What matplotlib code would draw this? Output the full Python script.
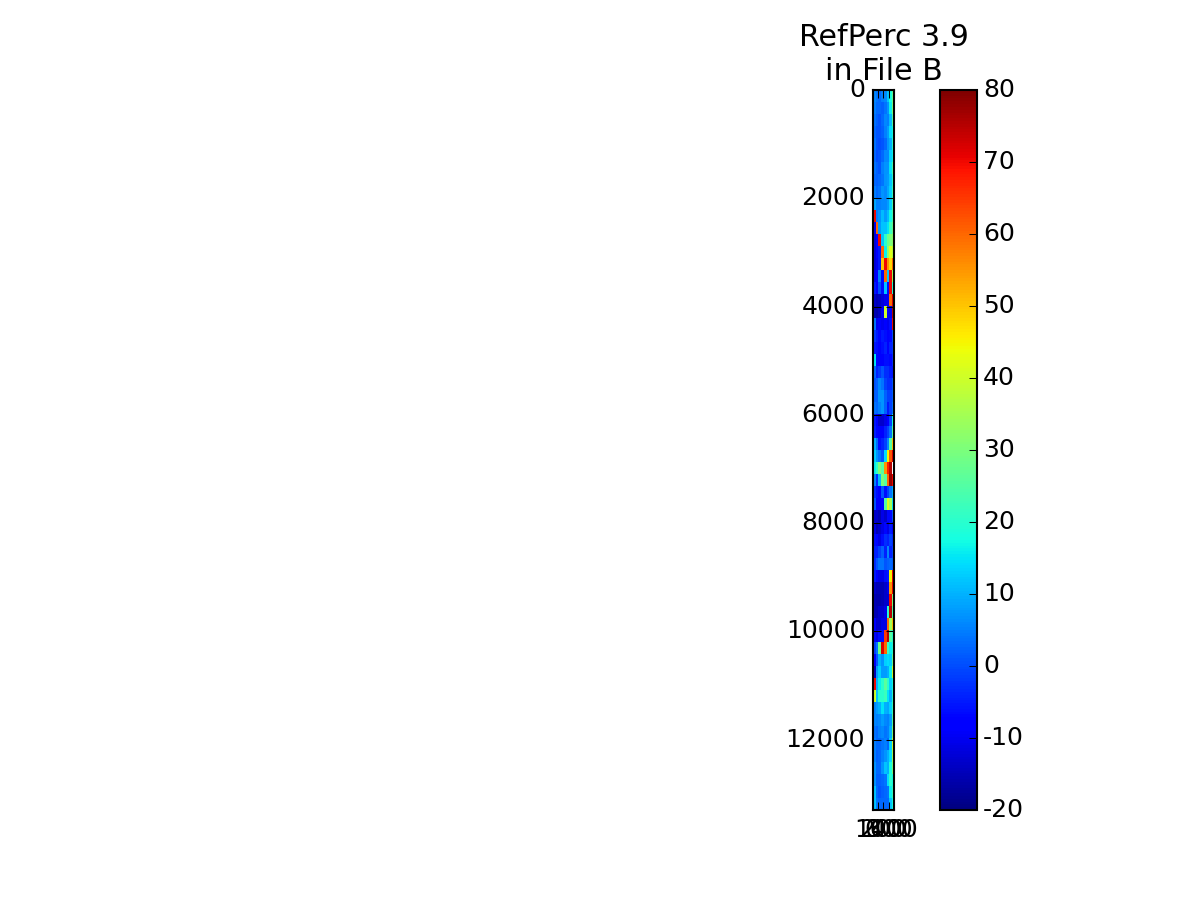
import numpy as np
import matplotlib
matplotlib.use('Agg')
import matplotlib.pyplot as plt

plt.style.use('classic')
plt.rcParams['axes.unicode_minus'] = False

# values, top to bottom
nan = np.nan
north_swath = [
    [6, 4, 3, 5, 6, 12, 18, 28],
    [5, 3, 3, 2, 4, 7, 16, 30],
    [4, 2, 1, 3, 6, 5, 11, 25],
    [3, 1, 1, 2, 5, 8, 14, 18],
    [4, 1, 0, 1, 3, 7, 10, 20],
    [3, 0, 1, 3, 6, 6, 13, 17],
    [4, 2, 1, 5, 7, 7, 15, 24],
    [3, 2, 3, 4, 7, 8, 12, 20],
    [5, 3, 4, 7, 6, 9, 13, 22],
    [9, 5, 5, 6, 6, 8, 13, 24],
    [70, 5, 7, 11, 8, 11, 17, 24],
    [-10, 60, 8, 12, 12, 15, 22, 28],
    [-12, -8, 70, 12, 20, 28, 30, 32],
    [-12, -8, -5, 60, 16, 32, 42, 38],
    [-12, -10, -5, 50, 70, 55, 48, 60],
    [-10, -8, 5, -6, 60, 12, 70, 35],
    [-5, -8, 0, -6, 12, -6, 70, 20],
    [-13, -15, -14, -12, -10, -10, 60, 72],
    [-15, -16, -14, -10, 40, -8, -10, 75],
    [4, -10, -8, -10, -8, -10, -6, 70],
]
middle_swath = [
    [-2, -5, -7, -5, -6, -8, -7, 0],
    [-5, -6, -9, -6, -4, -9, -4, -2],
    [15, -7, -9, -9, -6, -6, -7, -3],
    [3, -4, -2, 1, -3, -3, -5, -5],
    [1, 2, 6, 4, -1, -3, -3, 1],
    [2, 2, 7, 7, 2, -1, -1, 2],
    [4, 3, 5, 7, 2, -5, -1, 4],
    [-5, -9, -13, -13, -11, -9, -1, 18],
    [-4, -7, -9, -9, -4, -1, 4, 25],
    [10, 3, -6, -4, -1, 6, 25, 50],
    [13, 7, 4, 1, 14, 45, 62, 72],
    [16, 21, 30, 25, 55, 68, 75, nan],
    [6, -3, 11, 30, 25, 60, 78, 70],
    [-3, -6, -9, 1, -6, -1, 4, 10],
    [1, -9, -9, -7, 25, 42, 35, 15],
    [-13, -13, -15, -11, -13, -7, -7, 1],
    [-11, -15, -13, -11, -7, -11, -5, -7],
    [-6, -7, -11, -6, -3, -4, -1, -3],
    [-4, -4, -1, 2, -4, 6, -4, -1],
    [-3, 1, 4, 4, 1, 2, 3, 2],
]
south_swath = [
    [-5, -9, -11, -11, -6, -5, 45, 70],
    [-13, -15, -15, -15, -13, -11, 55, 70],
    [-15, -16, -16, -15, -13, -13, 70, 30],
    [-15, -15, -13, -13, -11, 20, 75, 25],
    [-9, -13, -13, -11, -11, 60, 35, 50],
    [-7, -11, -6, -6, 65, 75, 25, 20],
    [-1, 4, 28, 72, 60, 22, 16, 20],
    [-9, 1, 10, 7, 13, 14, 13, 28],
    [-15, 8, 13, 8, 8, 10, 16, 40],
    [70, 10, 16, 20, 26, 20, 13, 18],
    [40, 12, 20, 20, 22, 15, 10, 20],
    [6, 8, 10, 15, 10, 9, 13, 22],
    [6, 5, 6, 8, 6, 5, 8, 25],
    [4, 3, 5, 6, 4, 5, 10, 30],
    [5, 3, 3, 4, 5, 3, 13, 40],
    [5, 2, 3, 5, 7, 10, 14, 35],
    [7, 3, 3, 7, 12, 10, 18, 30],
    [7, 2, 2, 3, 4, 14, 20, 18],
    [12, 3, 1, 2, 3, 4, 16, 22],
    [12, 4, 3, 3, 3, 3, 12, 18],
]
x_ticks = [0, 100, 200, 300, 400]
y_ticks = [0, 2000, 4000, 6000, 8000, 10000, 12000]
cbar_ticks = [-20, -10, 0, 10, 20, 30, 40, 50, 60, 70, 80]

field = np.array(north_swath + middle_swath + south_swath, dtype=float)

fig = plt.figure(figsize=(8, 6), dpi=150, facecolor='white')

# main swath
ax = fig.add_axes([872.5 / 1200, 0.1, 22 / 1200, 0.8])
im = ax.imshow(field, cmap='jet', vmin=-20, vmax=80, aspect='auto',
               interpolation='nearest', extent=[0, 406, 13300, 0])
ax.set_xticks(x_ticks)
ax.set_yticks(y_ticks)
ax.set_xlim(0, 406)
ax.set_ylim(13300, 0)
ax.tick_params(axis='x', pad=4)
ax.tick_params(axis='y', pad=3.5)
ax.set_title('RefPerc 3.9\nin File B')

# colour bar
cax = fig.add_axes([940 / 1200, 0.1, 37 / 1200, 0.8])
cbar = fig.colorbar(im, cax=cax)
cbar.set_ticks(cbar_ticks)
cax.tick_params(pad=3)

fig.savefig('out.png', dpi=150, facecolor='white')
